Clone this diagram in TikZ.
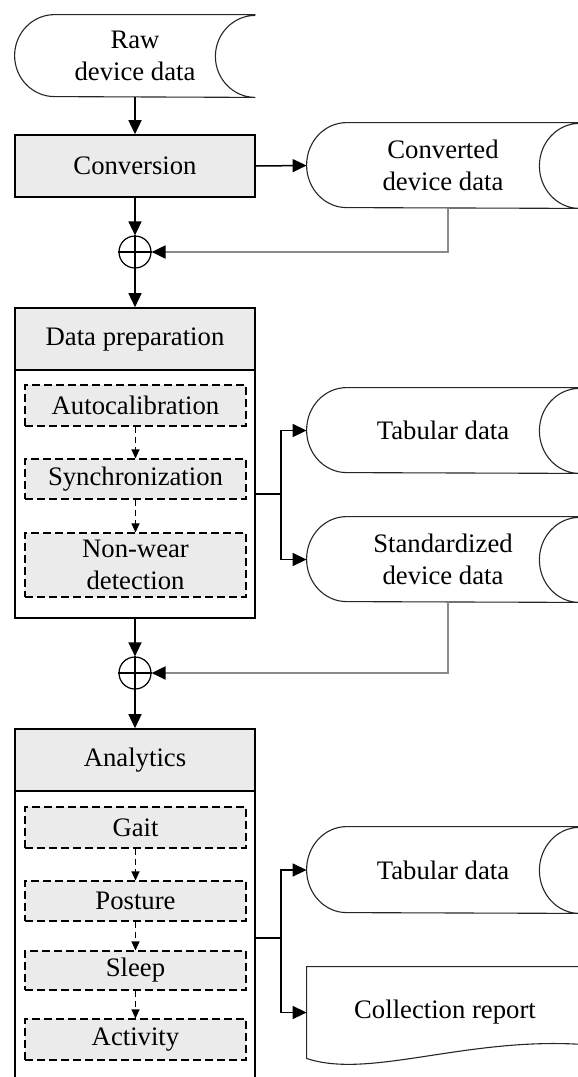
\documentclass[tikz,border=0pt]{standalone}
\usepackage{fontspec}
\setmainfont{Liberation Serif}
\usetikzlibrary{arrows.meta,calc}
\definecolor{boxfill}{HTML}{EBEBEB}
\definecolor{fbline}{HTML}{8A8A8A}
\newcommand\sdshape[2]{%
  \draw[sdline] (#1.north east) -- ([xshift=20pt]#1.north west)
    arc[start angle=90, end angle=270, x radius=20pt, y radius=#2]
    -- (#1.south east)
    arc[start angle=270, end angle=90, x radius=20pt, y radius=#2];}
\begin{document}
\begin{tikzpicture}[x=0.5pt,y=0.5pt,
  every node/.style={font=\fontsize{13.35}{16}\selectfont, inner sep=0pt},
  sdline/.style={draw=black!85, line width=0.55pt},
  datanode/.style={align=center, minimum width=136pt, minimum height=42.5pt},
  procbox/.style={draw, fill=boxfill, line width=0.8pt, minimum width=120pt},
  bodybox/.style={draw, line width=0.8pt, minimum width=120pt},
  subbox/.style={draw, dashed, dash pattern=on 4pt off 2pt, fill=boxfill, line width=0.55pt, minimum width=110.5pt, align=center},
  flow/.style={line width=0.75pt, -{Triangle[length=7pt,width=6.5pt]}},
  subflow/.style={line width=0.55pt, dashed, dash pattern=on 3pt off 2pt, -{Triangle[length=4.5pt,width=4pt]}},
  fb/.style={draw=fbline, line width=1pt, -{Triangle[length=7pt,width=6.5pt,color=black]}},
  sumnode/.style={circle, draw, line width=0.6pt, minimum size=16pt}
]
\useasboundingbox (0,0) rectangle (578,-1077);

% top part
\node[datanode, minimum width=120pt, minimum height=41pt] (raw) at (135,-56) {Raw\\device data};
\sdshape{raw}{20.5pt}
\node[procbox, minimum height=31pt] (conv) at (135,-166) {Conversion};
\node[datanode] (cdata) at (443,-165.5) {Converted\\device data};
\sdshape{cdata}{21.25pt}
\node[sumnode] (sum1) at (135,-252) {};
\draw[line width=0.6pt] (sum1.north) -- (sum1.south) (sum1.west) -- (sum1.east);

\draw[flow] (raw.south) -- (conv.north);
\draw[flow] (conv.east) -- (cdata.west);
\draw[flow] (conv.south) -- (sum1.north);
\draw[fb] ([xshift=2.5pt]cdata.south) |- (sum1.east);

% data preparation
\node[procbox, minimum height=31pt] (prephead) at (135,-339) {Data preparation};
\node[bodybox, minimum height=124pt] (prepbody) at (135,-494) {};
\node[subbox, minimum height=20.5pt] (autocal) at (135.5,-405.5) {Autocalibration};
\node[subbox, minimum height=20pt] (sync) at (135.5,-479) {Synchronization};
\node[subbox, minimum height=32pt] (nonwear) at (135.5,-565) {Non-wear\\detection};
\draw[subflow] (autocal.south) -- (sync.north);
\draw[subflow] (sync.south) -- (nonwear.north);
\draw[flow] (sum1.south) -- (prephead.north);

\node[datanode] (tab1) at (443,-430.5) {Tabular data};
\sdshape{tab1}{21.25pt}
\node[datanode] (std) at (443,-559.5) {Standardized\\device data};
\sdshape{std}{21.25pt}
\draw[line width=0.75pt] (prepbody.east) -- ++(12.5pt,0) coordinate (br1);
\draw[flow] (br1) |- (tab1.west);
\draw[flow] (br1) |- (std.west);

\node[sumnode] (sum2) at (135,-673) {};
\draw[line width=0.6pt] (sum2.north) -- (sum2.south) (sum2.west) -- (sum2.east);
\draw[flow] (prepbody.south) -- (sum2.north);
\draw[fb] ([xshift=2.5pt]std.south) |- (sum2.east);

% analytics
\node[procbox, minimum height=31pt] (anahead) at (135,-760) {Analytics};
\node[bodybox, minimum height=147pt] (anabody) at (135,-938) {};
\draw[flow] (sum2.south) -- (anahead.north);
\node[subbox, minimum height=20.5pt] (gait) at (135.5,-827.5) {Gait};
\node[subbox, minimum height=20pt] (posture) at (135.5,-901) {Posture};
\node[subbox, minimum height=19.5pt] (sleep) at (135.5,-970.5) {Sleep};
\node[subbox, minimum height=20.5pt] (activity) at (135.5,-1039.5) {Activity};
\draw[subflow] (gait.south) -- (posture.north);
\draw[subflow] (posture.south) -- (sleep.north);
\draw[subflow] (sleep.south) -- (activity.north);

\node[datanode, minimum height=43pt] (tab2) at (443,-870) {Tabular data};
\sdshape{tab2}{21.5pt}
\node[minimum width=138pt, minimum height=45.5pt] (rep) at (445,-1012.5) {Collection report};
\draw[sdline] (rep.north east) -- (rep.north west) -- (rep.south west)
  .. controls (370,-1080) and (470,-1035) .. (590,-1045);
\draw[line width=0.75pt] (anabody.east) -- ++(12.5pt,0) coordinate (br2);
\draw[flow] (br2) |- (tab2.west);
\draw[flow] (br2) |- (rep.west);
\end{tikzpicture}
\end{document}
